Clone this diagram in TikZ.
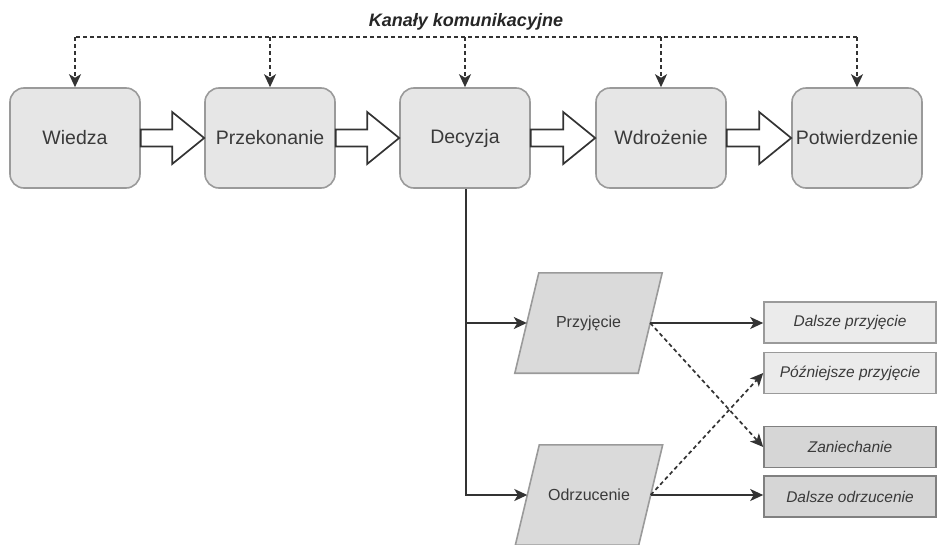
\documentclass[tikz,border=0pt]{standalone}
\usepackage{fontspec}
\setmainfont{Liberation Sans}
\usetikzlibrary{arrows.meta,calc}
\definecolor{boxfill}{HTML}{E6E6E6}
\definecolor{boxdraw}{HTML}{9A9A9A}
\definecolor{parfill}{HTML}{DADADA}
\definecolor{lightout}{HTML}{EBEBEB}
\definecolor{darkout}{HTML}{D6D6D6}
\definecolor{txt}{HTML}{3A3A3A}
\begin{document}
\begin{tikzpicture}[x=1pt,y=-1pt,
  stage/.style={draw=boxdraw,fill=boxfill,line width=1.6pt,rounded corners=14pt,
    minimum width=130pt,minimum height=100pt,inner sep=0pt,text=txt,
    font=\fontsize{19.5}{22}\selectfont},
  parbox/.style={draw=none,minimum width=123pt,minimum height=100pt,inner sep=0pt,
    text=txt,font=\fontsize{16}{19}\selectfont},
  outbox/.style={draw=boxdraw,line width=1.6pt,minimum width=172pt,minimum height=41pt,
    inner sep=0pt,text=txt,font=\fontsize{15.5}{18}\selectfont\itshape},
  tip/.style={-{Stealth[length=13pt,width=12pt,inset=3.5pt]}},
  solidarr/.style={tip,line width=1.7pt,draw=black!80},
  dasharr/.style={tip,line width=1.7pt,draw=black!80,dash pattern=on 4pt off 3pt},
  blockarr/.style={draw=black!80,fill=white,line width=1.7pt,line join=miter}
]
\useasboundingbox (0,0) rectangle (937,544);

% title
\node[font=\fontsize{18}{21}\selectfont\bfseries\itshape,text=black!85] (title) at (466,22) {Kanały komunikacyjne};

% stages
\node[stage] (w) at (75,138) {Wiedza};
\node[stage] (p) at (270,138) {Przekonanie};
\node[stage] (d) at (465,138) {Decyzja};
\node[stage] (i) at (661,138) {Wdrożenie};
\node[stage] (c) at (857,138) {Potwierdzenie};

% communication channels
\coordinate (tl) at (76,37);
\coordinate (tr) at (858,37);
\draw[line width=1.7pt,draw=black!80,dash pattern=on 4pt off 3pt] (tl) -- (tr);
\foreach \n in {w,p,d,i,c}{
  \draw[dasharr] (tl -| \n.north) -- (\n.north);
}

% block arrows
\foreach \a/\b in {w/p,p/d,d/i,i/c}{
  \draw[blockarr] ($(\a.east)+(0,-8.5)$) -- ($(\b.west)+(-32,-8.5)$) -- ($(\b.west)+(-32,-26)$)
    -- (\b.west) -- ($(\b.west)+(-32,26)$) -- ($(\b.west)+(-32,8.5)$) -- ($(\a.east)+(0,8.5)$) -- cycle;
}

% decision outcomes
\node[parbox] (pr) at (588.5,323) {};
\draw[draw=boxdraw,fill=parfill,line width=1.6pt]
  ($(pr.north west)+(12,0)$) -- ($(pr.north east)+(12,0)$) -- ($(pr.south east)+(-12,0)$) -- ($(pr.south west)+(-12,0)$) -- cycle;
\node[parbox] at (pr) {Przyjęcie};

\node[parbox] (od) at (589,495) {};
\draw[draw=boxdraw,fill=parfill,line width=1.6pt]
  ($(od.north west)+(12,0)$) -- ($(od.north east)+(12,0)$) -- ($(od.south east)+(-12,0)$) -- ($(od.south west)+(-12,0)$) -- cycle;
\node[parbox] at (od) {Odrzucenie};

\coordinate (split) at ($(d.south)+(1,0)$);
\draw[solidarr] (split) |- (od.west);
\draw[solidarr] (split |- pr.west) -- (pr.west);

% results
\node[outbox,fill=lightout] (dp) at (850,322.5) {Dalsze przyjęcie};
\node[outbox,fill=lightout] (pp) at (850,373) {Późniejsze przyjęcie};
\node[outbox,fill=darkout,draw=black!50] (za) at (850,447) {Zaniechanie};
\node[outbox,fill=darkout,draw=black!50] (do) at (850,496.5) {Dalsze odrzucenie};

\draw[solidarr] (pr.east) -- (pr.east -| dp.west);
\draw[dasharr] (pr.east) -- (za.west);
\draw[dasharr] (od.east) -- (pp.west);
\draw[solidarr] (od.east) -- (od.east -| do.west);
\end{tikzpicture}
\end{document}
